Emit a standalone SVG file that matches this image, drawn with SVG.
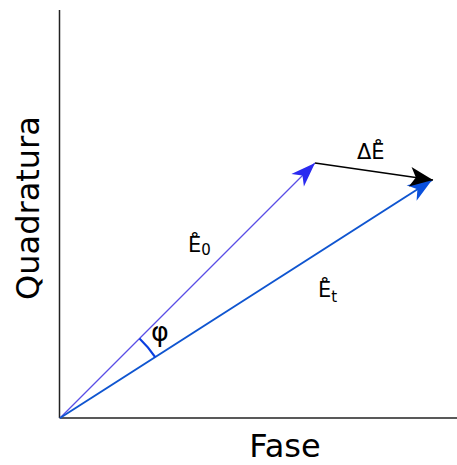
<svg xmlns="http://www.w3.org/2000/svg" width="457" height="465" viewBox="0 0 457 465">
<style>
text{font-family:"DejaVu Sans","Liberation Sans",sans-serif;fill:#000}
.axis{stroke:#222;stroke-width:1.5;fill:none}
.big{font-size:32px}
.lbl{font-size:21px}
.sub{font-size:15px}
</style>
<defs>
<marker id="ah0" markerUnits="userSpaceOnUse" orient="auto" refX="0" refY="0" markerWidth="30" markerHeight="30" viewBox="-20 -10 22 20" overflow="visible">
<path d="M0,0 L-18,-6.5 L-13,0 L-18,6.5 Z" fill="#2a2af0"/>
</marker>
<marker id="aht" markerUnits="userSpaceOnUse" orient="auto" refX="0" refY="0" markerWidth="30" markerHeight="30" viewBox="-24 -12 26 24" overflow="visible">
<path d="M0,0 L-21,-8 L-15,0 L-21,8 Z" fill="#0a50dc"/>
</marker>
<marker id="ahd" markerUnits="userSpaceOnUse" orient="auto" refX="0" refY="0" markerWidth="30" markerHeight="30" viewBox="-24 -12 26 24" overflow="visible">
<path d="M0,0 L-20,-8.5 L-15,0 L-20,8.5 Z" fill="#000"/>
</marker>
</defs>
<g id="axes">
<line class="axis" x1="59.5" y1="10" x2="59.5" y2="418"/>
<line class="axis" x1="59.5" y1="418" x2="457" y2="418"/>
</g>
<g id="connectors">
<line id="E0" x1="60" y1="418" x2="315" y2="163" stroke="#5a4ee6" stroke-width="1.3" marker-end="url(#ah0)"/>
<line id="Et" x1="60" y1="418" x2="432" y2="180" stroke="#0f55d0" stroke-width="2" marker-end="url(#aht)"/>
<line id="dE" x1="315" y1="163" x2="433" y2="180" stroke="#000" stroke-width="1.6" marker-end="url(#ahd)"/>
<path id="phi-arc" d="M139.5,338.5 A113,113 0 0 1 155.2,357.1" fill="none" stroke="#0a3fe0" stroke-width="2.2"/>
</g>
<g id="label-quadratura">
<text class="big" transform="translate(39,208) rotate(-90)" text-anchor="middle">Quadratura</text>
</g>
<g id="label-fase">
<text class="big" x="285" y="457" text-anchor="middle">Fase</text>
</g>
<g id="label-dE">
<text class="lbl" x="357" y="159">ΔE̊</text>
</g>
<g id="label-E0">
<text class="lbl" x="188" y="252">E̊<tspan class="sub" dy="3">0</tspan></text>
</g>
<g id="label-Et">
<text class="lbl" x="318" y="297">E̊<tspan class="sub" dy="5">t</tspan></text>
</g>
<g id="label-phi">
<text x="151" y="341" style="font-size:27px">φ</text>
</g>
</svg>
